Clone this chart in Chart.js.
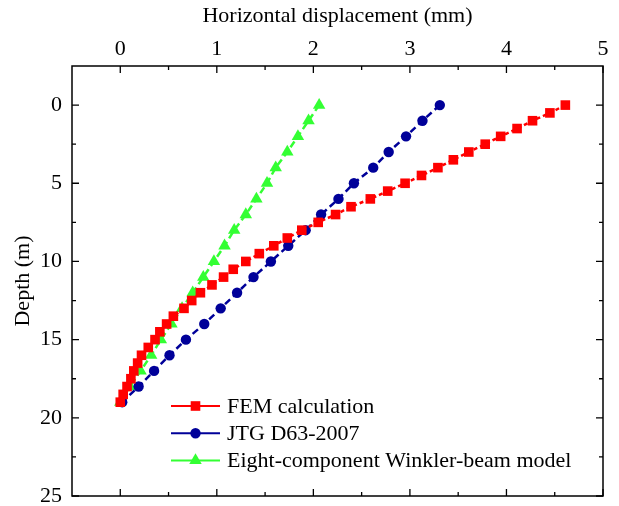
<!DOCTYPE html>
<html>
<head>
<meta charset="utf-8">
<script src="https://cdn.jsdelivr.net/npm/chart.js@4.4.1/dist/chart.umd.min.js"></script>
<style>
  html, body { margin: 0; padding: 0; background: #fff; }
  #wrap { width: 619px; height: 506px; }
</style>
</head>
<body>
<div id="wrap"><canvas id="chart" width="619" height="506"></canvas></div>
<script>
// =================== DATA ===================
const femDepth = [0, 0.5, 1, 1.5, 2, 2.5, 3, 3.5, 4, 4.5, 5, 5.5, 6, 6.5, 7, 7.5, 8, 8.5, 9, 9.5,
  10, 10.5, 11, 11.5, 12, 12.5, 13, 13.5, 14, 14.5, 15, 15.5, 16, 16.5, 17, 17.5, 18, 18.5, 19];
const femDisp = [4.61, 4.45, 4.27, 4.11, 3.94, 3.78, 3.61, 3.45, 3.29, 3.12, 2.95, 2.77, 2.59, 2.39, 2.23, 2.05, 1.88, 1.73, 1.59, 1.44,
  1.30, 1.17, 1.07, 0.95, 0.83, 0.74, 0.66, 0.55, 0.48, 0.41, 0.36, 0.29, 0.22, 0.18, 0.14, 0.11, 0.07, 0.03, 0.0];

const jtgDepth = [0, 1, 2, 3, 4, 5, 6, 7, 8, 9, 10, 11, 12, 13, 14, 15, 16, 17, 18, 19];
const jtgDisp = [3.31, 3.13, 2.96, 2.78, 2.62, 2.42, 2.26, 2.08, 1.92, 1.74, 1.56, 1.38, 1.21, 1.04, 0.87, 0.68, 0.51, 0.35, 0.19, 0.02];

const winkDepth = [0, 1, 2, 3, 4, 5, 6, 7, 8, 9, 10, 11, 12, 13, 14, 15, 16, 17, 18, 19];
const winkDisp = [2.06, 1.95, 1.84, 1.73, 1.61, 1.52, 1.41, 1.30, 1.18, 1.08, 0.97, 0.86, 0.75, 0.64, 0.53, 0.42, 0.32, 0.21, 0.10, 0.0];

const seriesNames = ["FEM calculation", "JTG D63-2007", "Eight-component Winkler-beam model"];
const xTicks = [0, 1, 2, 3, 4, 5];
const yTicks = [0, 5, 10, 15, 20, 25];

const FONT = "'Liberation Serif', 'Times New Roman', serif";
const FS = 22;

function pts(xs, ys) {
  return xs.map((x, i) => ({ x: x, y: ys[i] }));
}

// =================== FRAME + INWARD TICKS ===================
const framePlugin = {
  id: "frame",
  afterDraw(chart) {
    const { ctx, chartArea: a, scales } = chart;
    ctx.save();
    ctx.strokeStyle = "#000";
    ctx.lineWidth = 1.5;
    ctx.strokeRect(a.left, a.top, a.right - a.left, a.bottom - a.top);

    ctx.lineWidth = 1.3;
    // x ticks (top + bottom), every 0.5
    for (let v = 0; v <= 5.001; v += 0.5) {
      const px = scales.x.getPixelForValue(v);
      const len = Number.isInteger(v) ? 7 : 4;
      ctx.beginPath();
      ctx.moveTo(px, a.top); ctx.lineTo(px, a.top + len);
      ctx.moveTo(px, a.bottom); ctx.lineTo(px, a.bottom - len);
      ctx.stroke();
    }
    // y ticks (left + right), every 2.5
    for (let v = 0; v <= 25.001; v += 2.5) {
      const py = scales.y.getPixelForValue(v);
      const len = v % 5 === 0 ? 7 : 4;
      ctx.beginPath();
      ctx.moveTo(a.left, py); ctx.lineTo(a.left + len, py);
      ctx.moveTo(a.right, py); ctx.lineTo(a.right - len, py);
      ctx.stroke();
    }
    ctx.restore();
  },
};

// =================== LEGEND (line + marker) ===================
const legendPlugin = {
  id: "lineLegend",
  afterDraw(chart) {
    const ctx = chart.ctx;
    const x0 = 171, x1 = 220, yTop = 406, rowH = 27.2;
    ctx.save();
    chart.data.datasets.forEach((ds, i) => {
      const y = yTop + i * rowH;
      ctx.strokeStyle = ds.borderColor;
      ctx.lineWidth = 2;
      ctx.setLineDash([]);
      ctx.beginPath();
      ctx.moveTo(x0, y); ctx.lineTo(x1, y);
      ctx.stroke();
      ctx.fillStyle = ds.backgroundColor;
      ctx.strokeStyle = ds.backgroundColor;
      Chart.helpers.drawPoint(ctx, {
        pointStyle: ds.pointStyle,
        radius: ds.pointRadius,
        borderWidth: 0,
        rotation: 0,
      }, (x0 + x1) / 2, y);
      ctx.fillStyle = "#000";
      ctx.font = FS + "px " + FONT;
      ctx.textBaseline = "middle";
      ctx.textAlign = "left";
      ctx.fillText(ds.label, x1 + 7, y + 1);
    });
    ctx.restore();
  },
};

// =================== CHART ===================
const chart = new Chart(document.getElementById("chart"), {
  type: "scatter",
  data: {
    datasets: [
      {
        label: seriesNames[0],
        data: pts(femDisp, femDepth),
        showLine: true,
        borderColor: "#ff0000",
        backgroundColor: "#ff0000",
        borderWidth: 2.5,
        borderDash: [4, 3],
        pointStyle: "rect",
        pointRadius: 6.8,
        pointBorderWidth: 0,
      },
      {
        label: seriesNames[1],
        data: pts(jtgDisp, jtgDepth),
        showLine: true,
        borderColor: "#000099",
        backgroundColor: "#000099",
        borderWidth: 2.5,
        borderDash: [7, 4],
        pointStyle: "circle",
        pointRadius: 5.2,
        pointBorderWidth: 0,
      },
      {
        label: seriesNames[2],
        data: pts(winkDisp, winkDepth),
        showLine: true,
        borderColor: "#33ff33",
        backgroundColor: "#33ff33",
        borderWidth: 2.5,
        borderDash: [7, 4],
        pointStyle: "triangle",
        pointRadius: 7.2,
        pointBorderWidth: 0,
      },
    ],
  },
  options: {
    responsive: false,
    animation: false,
    layout: { padding: { top: 0, left: 0, right: 16, bottom: 10 } },
    plugins: { legend: { display: false }, tooltip: { enabled: false } },
    scales: {
      x: {
        type: "linear",
        position: "top",
        min: -0.5,
        max: 5,
        afterBuildTicks: (s) => { s.ticks = xTicks.map((v) => ({ value: v })); },
        afterFit: (s) => { s.height = 66; s.paddingLeft = 0; s.paddingRight = 0; },
        grid: { display: false, drawTicks: false, tickLength: 0 },
        border: { display: false },
        ticks: { color: "#000", font: { family: FONT, size: FS }, padding: 4, maxRotation: 0 },
        title: {
          display: true,
          text: "Horizontal displacement (mm)",
          color: "#000",
          font: { family: FONT, size: FS },
          padding: { top: 3, bottom: 0 },
        },
      },
      y: {
        type: "linear",
        reverse: true,
        min: -2.5,
        max: 25,
        afterBuildTicks: (s) => { s.ticks = yTicks.map((v) => ({ value: v })); },
        afterFit: (s) => { s.width = 72; s.paddingTop = 0; s.paddingBottom = 0; },
        grid: { display: false, drawTicks: false, tickLength: 0 },
        border: { display: false },
        ticks: { color: "#000", font: { family: FONT, size: FS }, padding: 10 },
        title: {
          display: true,
          text: "Depth (m)",
          color: "#000",
          font: { family: FONT, size: FS },
          padding: { top: 10, bottom: 0 },
        },
      },
    },
  },
  plugins: [framePlugin, legendPlugin],
});
</script>
</body>
</html>
